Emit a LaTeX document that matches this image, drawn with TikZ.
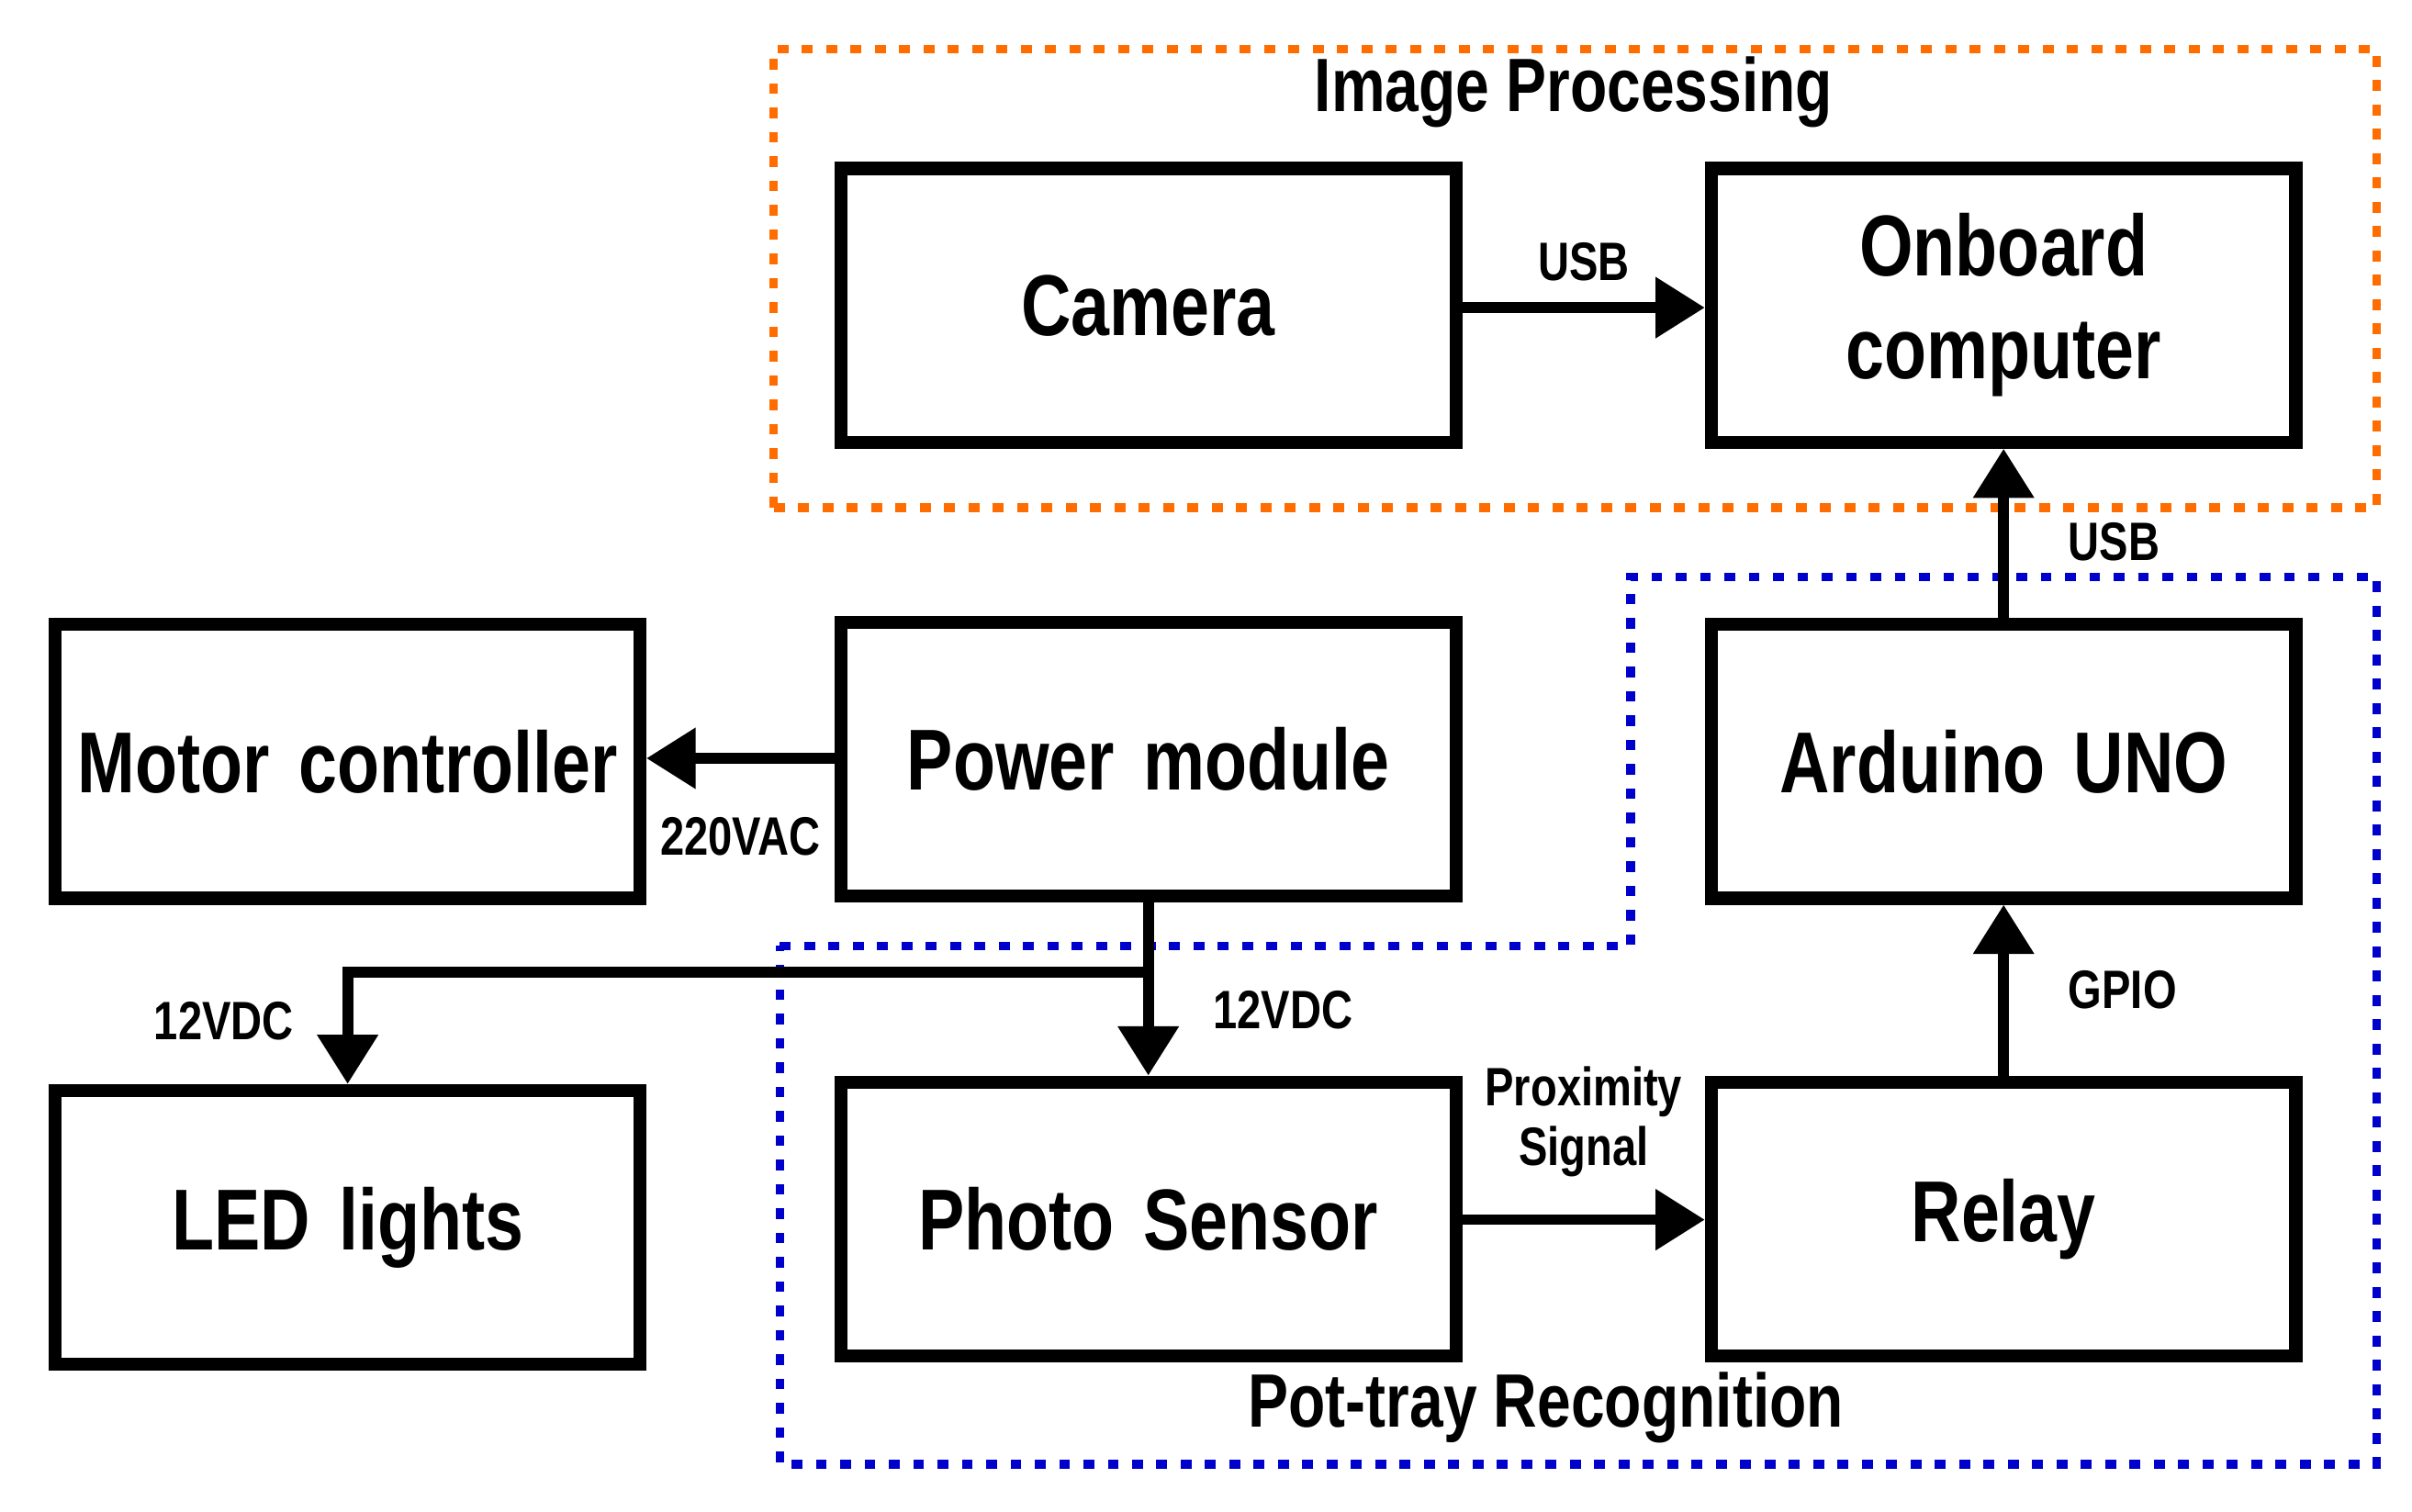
\documentclass[tikz,border=0pt]{standalone}
\usepackage{fontspec}
\setmainfont{Liberation Sans}
\newfontfamily\condfont{Liberation Sans}[FakeStretch=0.8]
\usepackage{tikz}
\usetikzlibrary{arrows.meta,calc,positioning}

\tikzset{
  block/.style={draw, line width=2.4pt, minimum width=3.95cm, minimum height=1.78cm,
    text width=3.6cm, inner sep=0pt,
    font=\condfont\fontsize{16}{17}\selectfont\bfseries, align=center},
  link/.style={line width=2pt, -{Triangle[length=0.32cm,width=0.38cm]}},
  tag/.style={font=\condfont\fontsize{10}{11}\selectfont\bfseries, align=center, inner sep=1pt},
  group/.style={font=\condfont\fontsize{14}{16}\selectfont\bfseries}
}

\begin{document}
\begin{tikzpicture}

        \useasboundingbox (0,0) rectangle (15.68,9.83);

         % Groups
         \draw[orange!85!red, line width=1.6pt, dash pattern=on 2pt off 2.5pt] (5.03,6.53) rectangle (15.45,9.51);
         \draw[blue!80!black, line width=1.6pt, dash pattern=on 2pt off 2.5pt]
           (5.07,3.68) -- (10.60,3.68) -- (10.60,6.08) -- (15.45,6.08) -- (15.45,0.31) -- (5.07,0.31) -- cycle;
         \node[group] (imgproc) at (10.23,9.23) {Image Processing};
         \node[group] (pottray) at (10.05,0.68) {Pot-tray Recognition};

          % Blocks
          \node[block, minimum width=4.0cm] (camera) at (7.465,7.845) {Camera};
          \node[block, minimum width=3.8cm, font=\condfont\fontsize{16}{19}\selectfont\bfseries] (onboard) at (13.025,7.845) {Onboard\\computer};
          \node[block, minimum width=3.8cm] (motor) at (2.26,4.88) {Motor controller};
          \node[block, minimum width=4.0cm] (power) at (7.465,4.895) {Power module};
          \node[block, minimum width=3.8cm] (arduino) at (13.025,4.88) {Arduino UNO};
          \node[block, minimum width=3.8cm] (led) at (2.26,1.85) {LED lights};
          \node[block, minimum width=4.0cm] (photo) at (7.465,1.905) {Photo Sensor};
          \node[block, minimum width=3.8cm] (relay) at (13.025,1.905) {Relay};

         % Connectors
         \draw[link] (camera.east|-0,7.83) -- (onboard.west|-0,7.83) node[tag, midway, above=3pt] {USB};
         \draw[link] (arduino) -- (onboard) node[tag, pos=0.45, right=10pt] {USB};
         \draw[link] (relay) -- (arduino) node[tag, midway, right=10pt] {GPIO};
         \draw[link] (photo.east|-0,1.90) -- (relay.west|-0,1.90) node[tag, midway, above=6pt] {Proximity\\Signal};
         \draw[link] (power.west|-0,4.90) -- (motor.east|-0,4.90) node[tag, midway, below=9pt] {220VAC};
         \draw[link] (power) -- (photo) node[tag, pos=0.62, right=10pt] {12VDC};
         \coordinate (split) at (7.45,3.51);
         \draw[link] (split) -| (led) node[tag, pos=0.72, left=8pt] {12VDC};

\end{tikzpicture}
\end{document}
